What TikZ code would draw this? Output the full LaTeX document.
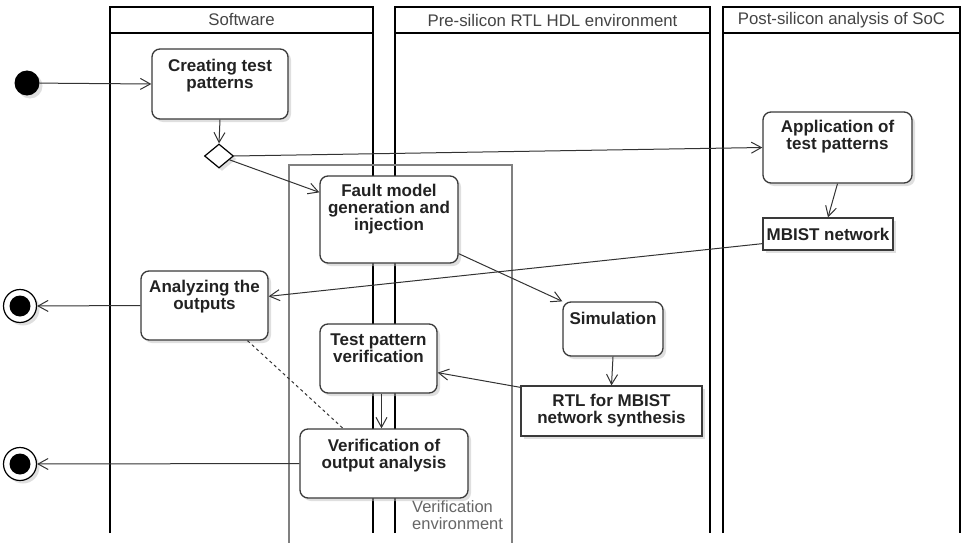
\documentclass[tikz,border=0pt]{standalone}
\usepackage{fontspec}
\setmainfont{Liberation Sans}
\usetikzlibrary{arrows.meta,shapes.geometric,shadows,calc}
\definecolor{edgec}{HTML}{333333}
\definecolor{boxc}{HTML}{3A3A3A}
\definecolor{txtc}{HTML}{222222}
\definecolor{headc}{HTML}{444444}
\definecolor{framec}{HTML}{808080}
\begin{document}
\begin{tikzpicture}[x=1pt,y=-1pt,
  lane/.style={draw=black, line width=2.3pt},
  headtxt/.style={font=\fontsize{16.8pt}{17pt}\selectfont, text=headc, inner sep=0pt},
  shad/.style={drop shadow={shadow xshift=3pt, shadow yshift=-3pt, fill=black!25, opacity=0.5}},
  act/.style={draw=boxc, line width=1.3pt, rounded corners=8pt, fill=white, shad, inner sep=0pt},
  rbox/.style={draw=boxc, line width=1.3pt, fill=white, shad, inner sep=0pt, align=center,
    font=\bfseries\fontsize{17pt}{17pt}\selectfont, text=txtc},
  boxtxt/.style={font=\bfseries\fontsize{17pt}{17pt}\selectfont, align=center, text=txtc, inner sep=0pt, anchor=north},
  flow/.style={draw=edgec, line width=1pt, -{Straight Barb[length=10pt,width=11pt,line width=1pt]}},
  initn/.style={circle, fill=black, minimum size=25pt, inner sep=0pt, shad},
  fino/.style={circle, draw=black, line width=1.2pt, fill=white, minimum size=33pt, inner sep=0pt, shad},
  fini/.style={circle, fill=black, minimum size=21pt, inner sep=0pt},
  dec/.style={diamond, draw=black, line width=1.2pt, fill=white, minimum width=29pt, minimum height=24pt, inner sep=0pt, shad}
]
\useasboundingbox (0,0) rectangle (964,543);

% swimlanes
\draw[lane] (110,533) -- (110,7) -- (373,7) -- (373,533);
\draw[lane] (110,33) -- (373,33);
\node[headtxt] (h1) at (241.5,20) {Software};
\draw[lane] (395,533) -- (395,7) -- (710,7) -- (710,533);
\draw[lane] (395,33) -- (710,33);
\node[headtxt] (h2) at (552.5,20) {Pre-silicon RTL HDL environment};
\draw[lane] (723,533) -- (723,7) -- (960,7) -- (960,533);
\draw[lane] (723,33) -- (960,33);
\node[headtxt] (h3) at (841.5,20) {Post-silicon analysis of SoC};

% verification environment frame
\draw[draw=framec, line width=1.5pt] (289,560) -- (289,165) -- (512,165) -- (512,560);
\node[font=\fontsize{16.5pt}{17pt}\selectfont, text=black!60, align=left, anchor=north west, inner sep=0pt] (venv) at (412,500) {Verification\\environment};

% nodes
\node[initn] (init) at (27,83) {};
\node[act, minimum width=136pt, minimum height=70pt] (create) at (220,84) {};
\node[boxtxt] (createt) at ($(create.north)+(0,11)$) {Creating test\\patterns};
\node[dec] (dia) at (219,156) {};
\node[act, minimum width=149pt, minimum height=71pt] (app) at (837.5,147.5) {};
\node[boxtxt] (appt) at ($(app.north)+(0,9)$) {Application of\\test patterns};
\node[act, minimum width=138pt, minimum height=87pt] (fault) at (389,219.5) {};
\node[boxtxt] (faultt) at ($(fault.north)+(0,9)$) {Fault model\\generation and\\injection};
\node[rbox, minimum width=130pt, minimum height=32pt] (mbist) at (828,234) {MBIST network};
\node[act, minimum width=127pt, minimum height=69pt] (an) at (204.5,305.5) {};
\node[boxtxt] (ant) at ($(an.north)+(0,10)$) {Analyzing the\\outputs};
\node[act, minimum width=100pt, minimum height=54pt] (sim) at (613,329) {};
\node[boxtxt] (simt) at ($(sim.north)+(0,10.5)$) {Simulation};
\node[act, minimum width=117pt, minimum height=69pt] (tp) at (378.5,358.5) {};
\node[boxtxt] (tpt) at ($(tp.north)+(0,10.5)$) {Test pattern\\verification};
\node[rbox, minimum width=181pt, minimum height=50pt] (rtl) at (611.5,411) {RTL for MBIST\\network synthesis};
\node[act, minimum width=168pt, minimum height=69pt] (ver) at (384,463.5) {};
\node[boxtxt] (vert) at ($(ver.north)+(0,10.5)$) {Verification of\\output analysis};
\node[fino] (f1) at (20,306) {};
\node[fini] (f1i) at (f1) {};
\node[fino] (f2) at (20,464) {};
\node[fini] (f2i) at (f2) {};

% edges
\draw[flow] (init) -- (create.west);
\draw[flow] (create.south) -- (dia.north);
\draw[flow] (dia.east) -- (app.west);
\coordinate (faultin) at ($(fault.north west)+(0,17)$);
\draw[flow] (dia) -- (faultin);
\draw[flow] (app.south) -- (mbist.north);
\coordinate (mbout) at ($(mbist.south west)+(0,-7)$);
\coordinate (anin) at ($(an.north east)+(0,26)$);
\draw[flow] (mbout) -- (anin);
\draw[flow] (an.west) -- (f1.east);
\coordinate (faultout) at ($(fault.south east)+(0,-10)$);
\draw[flow] (faultout) -- (sim.north west);
\draw[flow] (sim.south) -- (rtl.north);
\coordinate (rtlout) at ($(rtl.north west)+(0,2)$);
\coordinate (tpin) at ($(tp.south east)+(0,-21)$);
\draw[flow] (rtlout) -- (tpin);
\coordinate (tpv) at ($(tp.south)+(3,0)$);
\draw[flow] (tpv) -- (tpv |- ver.north);
\draw[flow] (ver.west) -- (f2.east);
\coordinate (dsa) at ($(an.south)+(43,0)$);
\coordinate (dsb) at ($(ver.north)+(-41,0)$);
\draw[draw=edgec, line width=1pt, dash pattern=on 3pt off 3pt] (dsa) -- (dsb);
\end{tikzpicture}
\end{document}
